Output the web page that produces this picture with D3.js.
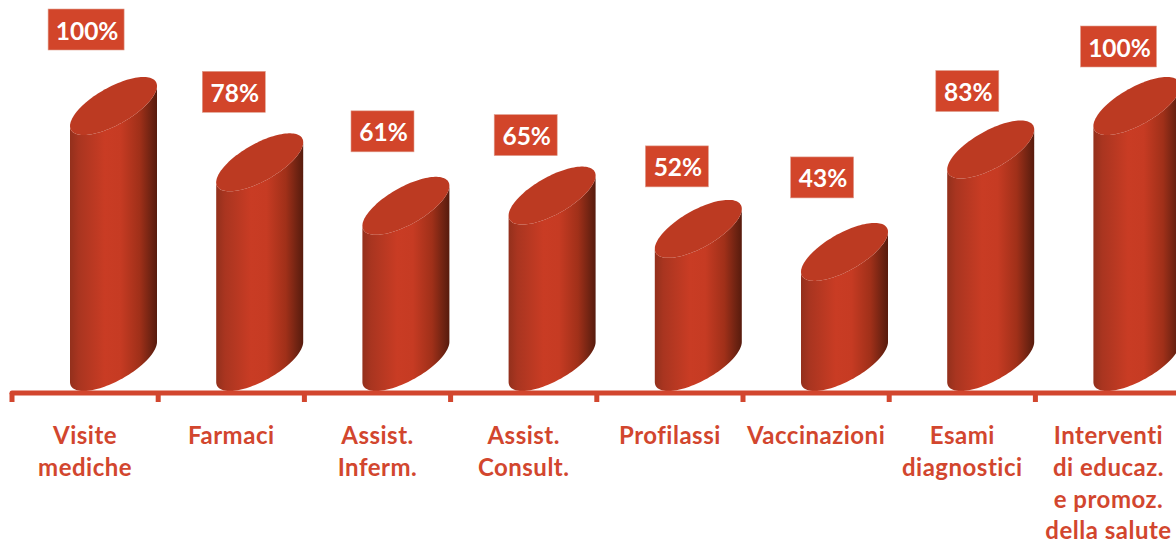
<!DOCTYPE html>
<html lang="it">
<head>
<meta charset="UTF-8">
<title>Prestazioni</title>
<script src="https://d3js.org/d3.v7.min.js"></script>
<style>
    html, body { margin: 0; padding: 0; background: #fff; overflow: hidden; }
    svg { display: block; }
    text { font-family: Lato, "Open Sans", sans-serif; font-weight: 700; }
    .tick-label { font-size: 24px; letter-spacing: 0.5px; fill: #d2462e; }
    .value-label { font-size: 24.5px; fill: #fff; }
</style>
</head>
<body>
<svg id="chart" width="1176" height="542"></svg>
<script>
const categories = ["Visite mediche", "Farmaci", "Assist. Inferm.", "Assist. Consult.", "Profilassi", "Vaccinazioni", "Esami diagnostici", "Interventi di educaz. e promoz. della salute"];
const categoryLines = [
    ["Visite", "mediche"],
    ["Farmaci"],
    ["Assist.", "Inferm."],
    ["Assist.", "Consult."],
    ["Profilassi"],
    ["Vaccinazioni"],
    ["Esami", "diagnostici"],
    ["Interventi", "di educaz.", "e promoz.", "della salute"]
];
const values = [100, 78, 61, 65, 52, 43, 83, 100];

// labels were placed by hand in the original, so each one has its own nudge
const labelDx = [1, 2.5, 5, 2, 7, 6, 5, 10];
const labelDy = [-78, -72, -76, -62, -64, -76, -60, -61];

const width = 1176, height = 542;
const svg = d3.select("#chart");

const x = d3.scaleBand().domain(categories).range([12, 12 + 8 * 146.2]);
const y = d3.scaleLinear().domain([0, 100]).range([362, 106]);

// cylinder geometry: a sheared ellipse for the caps
const barOffset = 58, barW = 87, rx = barW / 2, shear = 20, ry = 21;

const defs = svg.append("defs");
const grad = defs.append("linearGradient").attr("id", "body");
[[0, "#93301c"], [0.1, "#a93520"], [0.4, "#c93c24"], [0.58, "#c63b23"], [0.8, "#a03019"], [0.93, "#6f2312"], [1, "#571b0d"]]
    .forEach(([o, c]) => grad.append("stop").attr("offset", o).attr("stop-color", c));

const line = d3.line();

function capPoint(cx, cy, t) {
    return [cx + rx * Math.cos(t), cy + ry * Math.sin(t) - shear * Math.cos(t)];
}

function capPath(cx, cy) {
    return line(d3.range(0, 121).map(i => capPoint(cx, cy, i / 120 * 2 * Math.PI))) + "Z";
}

function bodyPath(cx, cyTop, cyBottom) {
    // lower half of the bottom cap, right side to left side, then back over the top cap
    const lower = d3.range(0, 61).map(i => capPoint(cx, cyBottom, i / 60 * Math.PI));
    const upper = d3.range(0, 61).map(i => capPoint(cx, cyTop, Math.PI - i / 60 * Math.PI));
    return line(lower.concat(upper)) + "Z";
}

const bars = svg.append("g").selectAll("g").data(categories).join("g");

bars.append("path")
    .attr("fill", "url(#body)")
    .attr("d", (d, i) => bodyPath(x(d) + barOffset + rx, y(values[i]), y(0)));

bars.append("path")
    .attr("fill", "#bc3a22")
    .attr("d", (d, i) => capPath(x(d) + barOffset + rx, y(values[i])));

// axis
const axisY = 393;
const axisG = svg.append("g").attr("transform", `translate(0,${axisY})`);
axisG.append("line")
    .attr("x1", 12).attr("x2", width)
    .attr("stroke", "#d2462e").attr("stroke-width", 5).attr("stroke-linecap", "round");
axisG.selectAll(".mark").data(categories).join("rect")
    .attr("class", "mark")
    .attr("x", d => x(d) - 2.5)
    .attr("y", 0).attr("width", 5).attr("height", 9)
    .attr("fill", "#d2462e");

const tickText = svg.append("g").selectAll("text").data(categories).join("text")
    .attr("class", "tick-label")
    .attr("text-anchor", "middle")
    .attr("y", 444);
tickText.selectAll("tspan").data((d, i) => categoryLines[i].map(l => ({ l, x: x(d) + x.bandwidth() / 2 })))
    .join("tspan")
    .attr("x", d => d.x)
    .attr("dy", (d, i) => i === 0 ? 0 : 31.8)
    .text(d => d.l);

// value labels
const labels = svg.append("g").selectAll("g").data(categories).join("g")
    .attr("transform", (d, i) => `translate(${x(d) + x.bandwidth() / 2 + labelDx[i]},${y(values[i]) + 22 + labelDy[i]})`);

labels.append("rect")
    .attr("x", (d, i) => values[i] === 100 ? -38 : -31.5)
    .attr("y", -41)
    .attr("width", (d, i) => values[i] === 100 ? 76 : 63)
    .attr("height", 41)
    .attr("fill", "#d2452a")
    .attr("stroke", "#e0a090").attr("stroke-width", 0.6);

labels.append("text")
    .attr("class", "value-label")
    .attr("text-anchor", "middle")
    .attr("x", 1)
    .attr("y", -10.5)
    .text((d, i) => values[i] + "%");
</script>
</body>
</html>
